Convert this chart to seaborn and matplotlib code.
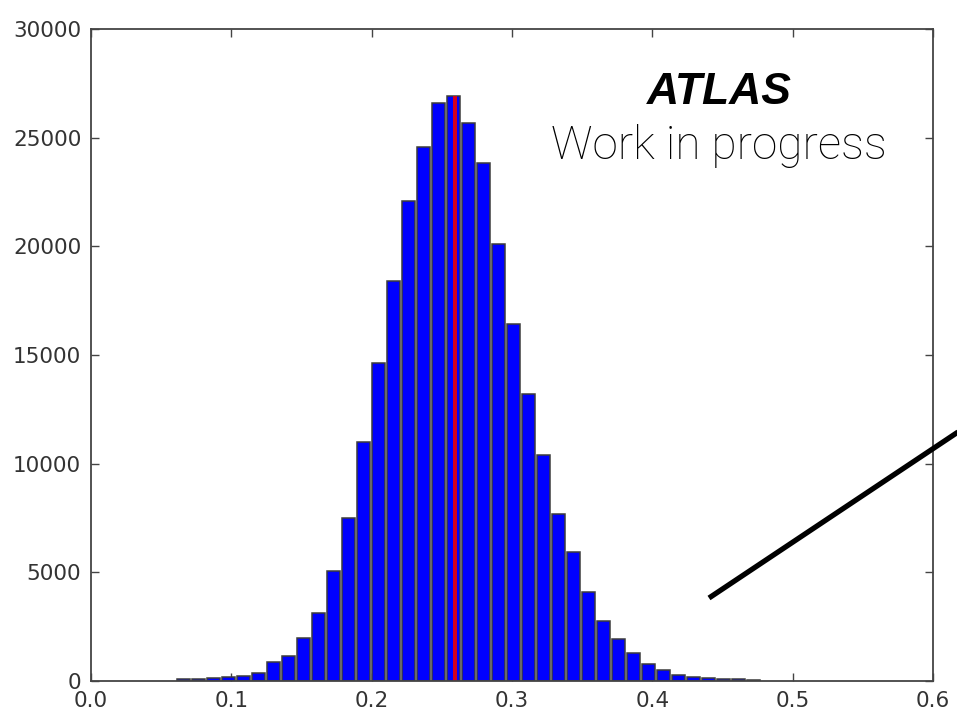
import numpy as np
import pandas as pd
import matplotlib
matplotlib.use("Agg")
import matplotlib.pyplot as plt
from matplotlib.lines import Line2D
import seaborn as sns

# Histogram binning (39 bins starting at bin_start)
bin_start = 0.0604
bin_width = 0.01069
counts = [80, 80, 150, 200, 250, 390, 880, 1140, 2000, 3130,
          5060, 7480, 11000, 14650, 18400, 22090, 24590, 26580, 26930, 25660,
          23850, 20100, 16430, 13220, 10400, 7690, 5920, 4100, 2760, 1930,
          1300, 770, 500, 280, 200, 150, 100, 90, 50]
mean_value = 0.2593
mean_height = 26930

edges = (bin_start + bin_width * np.arange(len(counts) + 1)).tolist()
centers = [(a + b) / 2 for a, b in zip(edges[:-1], edges[1:])]
df = pd.DataFrame({"value": centers, "count": counts})

sns.set_style("ticks")
plt.rcParams["font.family"] = ["DejaVu Sans"]

fig = plt.figure(figsize=(9.57, 7.11), dpi=100)
ax = fig.add_axes([0.0951, 0.0422, 0.975 - 0.0951, 0.9592 - 0.0422])

sns.histplot(data=df, x="value", weights="count", bins=edges, shrink=0.86,
             color="#0000ff", edgecolor="#3c3c3c", linewidth=1.1, alpha=1.0,
             ax=ax)

# mean marker drawn as a thin red bar
mean_df = pd.DataFrame({"value": [mean_value], "count": [mean_height]})
sns.histplot(data=mean_df, x="value", weights="count",
             bins=[mean_value - 0.0016, mean_value + 0.0016],
             color="#d4001c", edgecolor="none", alpha=1.0, ax=ax)

ax.set_xlim(0.0, 0.6)
ax.set_ylim(0, 30000)
xt = np.arange(0, 0.61, 0.1)
ax.set_xticks(xt)
ax.set_xticklabels([f"{t:.1f}" for t in xt])
ax.set_yticks(np.arange(0, 30001, 5000))
ax.set_xlabel("")
ax.set_ylabel("")

for sp in ax.spines.values():
    sp.set_visible(True)
    sp.set_color("#444444")
    sp.set_linewidth(1.3)

ax.tick_params(direction="in", top=True, right=True, length=6, width=1,
               color="#444444", labelsize=15.5, labelcolor="#333333", pad=7)

fig.text(0.752, 0.870, "ATLAS", ha="center", va="center",
         fontsize=32, fontweight="bold", style="italic",
         family=["Liberation Sans", "DejaVu Sans"], color="black")
fig.text(0.751, 0.795, "Work in progress", ha="center", va="center",
         fontsize=33, fontweight="light",
         family=["Roboto", "DejaVu Sans"], color="black")

# pointer line running off the right edge
W, H = 957, 711
x0, y0, x1, y1 = 709, 598, 1000, 404
fig.add_artist(Line2D([x0 / W, x1 / W], [1 - y0 / H, 1 - y1 / H],
                      transform=fig.transFigure, color="black",
                      linewidth=3.8, solid_capstyle="butt"))

fig.savefig("out.png", dpi=100)
